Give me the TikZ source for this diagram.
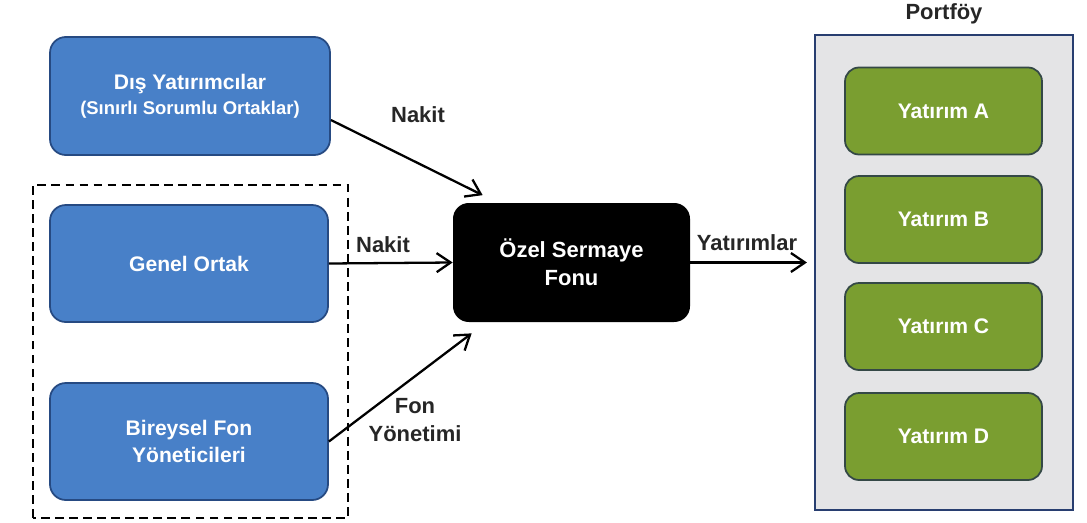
\documentclass[tikz,border=0pt]{standalone}
\usepackage{fontspec}
\setmainfont{Liberation Sans}
\usepackage{xcolor}
\definecolor{boxblue}{RGB}{72,128,200}
\definecolor{boxblueline}{RGB}{38,74,130}
\definecolor{assetgreen}{RGB}{122,158,48}
\definecolor{assetline}{RGB}{52,72,70}
\definecolor{panelgray}{RGB}{228,228,230}
\definecolor{panelline}{RGB}{40,62,112}
\usepackage{tikz}
\usetikzlibrary{arrows.meta,positioning,calc}
\tikzset{
    investor/.style={draw=boxblueline,fill=boxblue,line width=1pt,rounded corners=9pt,
        minimum width=5.6cm,minimum height=2.36cm,text=white,align=center,
        font=\fontsize{12}{15}\selectfont\bfseries},
    fund/.style={fill=black,rounded corners=9pt,minimum width=4.74cm,minimum height=2.38cm,
        text=white,align=center,font=\fontsize{12.5}{16}\selectfont\bfseries},
    asset/.style={draw=assetline,fill=assetgreen,line width=1pt,rounded corners=8pt,
        minimum width=3.94cm,minimum height=1.74cm,text=white,
        font=\fontsize{12}{15}\selectfont\bfseries},
    flow/.style={line width=1.3pt,-{Straight Barb[length=2.8mm,width=3.8mm,line width=1.3pt]}},
    flowlbl/.style={font=\fontsize{12.5}{16}\selectfont\bfseries,align=center,text=black!85}
}

\begin{document}
\begin{tikzpicture}
    \useasboundingbox (0,0) rectangle (21.74,10.44);
    % portfoy cercevesi
    \node[draw=panelline,fill=panelgray,line width=1.2pt,minimum width=5.16cm,minimum height=9.5cm]
        (portf) at (18.88,4.99) {};
    \node[flowlbl,anchor=base] (portflbl) at (18.88,10.04) {Portföy};
    % kesikli grup
    \draw[line width=1.1pt,dash pattern=on 5pt off 3pt] (0.66,0.08) rectangle (6.96,6.74);

    \node[investor] (dis) at (3.8,8.52) {Dış Yatırımcılar\\[-1pt]{\fontsize{10.5}{12}\selectfont(Sınırlı Sorumlu Ortaklar)}};
    \node[investor,minimum width=5.56cm,minimum height=2.34cm] (genel) at (3.78,5.17) {Genel Ortak};
    \node[investor,minimum width=5.56cm,minimum height=2.34cm] (bireysel) at (3.78,1.61) {Bireysel Fon\\Yöneticileri};

    \node[fund] (ozel) at (11.43,5.19) {Özel Sermaye\\Fonu};

    % yatirimlar
    \foreach \harf/\y in {A/8.22, B/6.05, C/3.91, D/1.71} {
        \node[asset] (yat\harf) at (18.87,\y) {Yatırım \harf};
    }

    \coordinate (disout) at ([yshift=-0.48cm]dis.east);
    \coordinate (ozelin1) at ([xshift=0.6cm,yshift=0.15cm]ozel.north west);
    \coordinate (ozelin3) at ([xshift=0.38cm,yshift=-0.22cm]ozel.south west);
    \coordinate (portfin) at ([xshift=-0.14cm]portf.west |- ozel.east);

    \draw[flow] (disout) -- (ozelin1);
    \draw[flow] (genel.east) -- (ozel.west);
    \draw[flow] (bireysel.east) -- (ozelin3);
    \draw[flow] (ozel.east) -- (portfin);

    \node[flowlbl] (lbl1) at (8.36,8.14) {Nakit};
    \node[flowlbl] (lbl2) at (7.66,5.54) {Nakit};
    \node[flowlbl] (lbl3) at (8.3,2.04) {Fon\\Yönetimi};
    \node[flowlbl] (lbl4) at (14.94,5.58) {Yatırımlar};
\end{tikzpicture}
\end{document}
